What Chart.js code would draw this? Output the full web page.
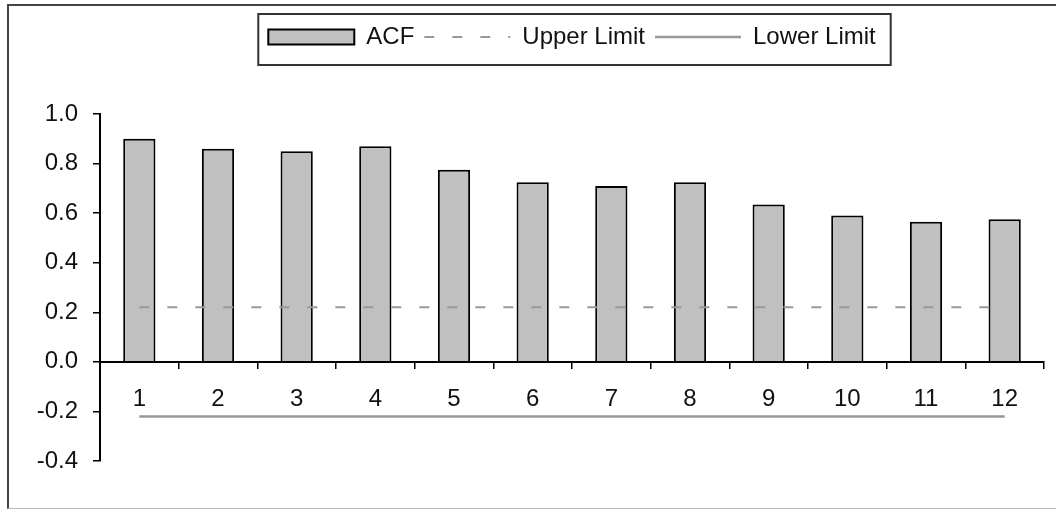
<!DOCTYPE html>
<html>
<head>
<meta charset="utf-8">
<title>ACF</title>
<script src="https://cdn.jsdelivr.net/npm/chart.js@4.4.1/dist/chart.umd.min.js"></script>
<style>
  html, body { margin: 0; padding: 0; background: #fff; overflow: hidden; }
  #frame {
    position: absolute; left: 7px; top: 4px; width: 1100px; height: 502px;
    border-top: 2px solid #444; border-left: 2px solid #444; border-bottom: 1px solid #bbb;
  }
  #acfChart { position: absolute; left: 0; top: 0; }
</style>
</head>
<body>
<div id="frame"></div>
<canvas id="acfChart" width="1056" height="510"></canvas>
<script>
const categories = ['1', '2', '3', '4', '5', '6', '7', '8', '9', '10', '11', '12'];
const acf = [0.90, 0.86, 0.85, 0.87, 0.775, 0.725, 0.71, 0.725, 0.635, 0.59, 0.565, 0.575];
const upperLimit = [0.22, 0.22, 0.22, 0.22, 0.22, 0.22, 0.22, 0.22, 0.22, 0.22, 0.22, 0.22];
const lowerLimit = [-0.22, -0.22, -0.22, -0.22, -0.22, -0.22, -0.22, -0.22, -0.22, -0.22, -0.22, -0.22];
const yTicks = [-0.4, -0.2, 0.0, 0.2, 0.4, 0.6, 0.8, 1.0];

Chart.defaults.font.family = "'Liberation Sans', Arial, sans-serif";
Chart.defaults.color = '#000';

// legend gets a fixed height so the plot starts where the original does
const legendSpace = {
  id: 'legendSpace',
  beforeInit(chart) {
    const fit = chart.legend.fit;
    chart.legend.fit = function () {
      fit.bind(chart.legend)();
      this.height = 99;
    };
  }
};

// Excel style box round the legend
const legendBox = {
  id: 'legendBox',
  afterDraw(chart) {
    const boxes = chart.legend.legendHitBoxes;
    if (!boxes || !boxes.length) return;
    const left = Math.min(...boxes.map(b => b.left));
    const right = Math.max(...boxes.map(b => b.left + b.width));
    const cy = boxes[0].top + boxes[0].height / 2;
    const ctx = chart.ctx;
    ctx.save();
    ctx.strokeStyle = '#333';
    ctx.lineWidth = 2;
    ctx.strokeRect(left - 10, cy - 23, right - left + 25, 51);
    ctx.restore();
  }
};

const ctx = document.getElementById('acfChart').getContext('2d');
new Chart(ctx, {
  type: 'bar',
  data: {
    labels: categories,
    datasets: [
      {
        label: 'ACF',
        data: acf,
        backgroundColor: '#c0c0c0',
        borderColor: '#000',
        borderWidth: 2,
        barPercentage: 0.41,
        categoryPercentage: 1.0,
        pointStyle: 'rect',
        order: 1
      },
      {
        type: 'line',
        label: 'Upper Limit',
        data: upperLimit,
        borderColor: '#999',
        backgroundColor: '#999',
        borderWidth: 2,
        borderDash: [10, 18],
        pointRadius: 0,
        pointStyle: 'line',
        fill: false,
        order: 0
      },
      {
        type: 'line',
        label: 'Lower Limit',
        data: lowerLimit,
        borderColor: '#999',
        backgroundColor: '#999',
        borderWidth: 2.5,
        pointRadius: 0,
        pointStyle: 'line',
        fill: false,
        order: 0
      }
    ]
  },
  options: {
    responsive: false,
    devicePixelRatio: 1,
    animation: false,
    layout: {
      padding: { top: 15, right: 12, bottom: 49, left: 0 }
    },
    scales: {
      x: {
        position: { y: 0 },
        grid: {
          offset: true,
          drawOnChartArea: false,
          drawTicks: true,
          tickLength: 6,
          color: '#000',
          lineWidth: 1.5
        },
        border: { display: true, color: '#000', width: 2 },
        ticks: {
          font: { size: 24 },
          color: '#111',
          padding: 17,
          maxRotation: 0,
          autoSkip: false
        }
      },
      y: {
        min: -0.4,
        max: 1.0,
        afterBuildTicks: scale => {
          scale.ticks = yTicks.map(v => ({ value: v }));
        },
        afterFit: scale => {
          scale.width = 100;
        },
        grid: {
          drawOnChartArea: false,
          drawTicks: true,
          tickLength: 7,
          color: '#000',
          lineWidth: 1.5
        },
        border: { display: true, color: '#000', width: 2 },
        ticks: {
          font: { size: 24 },
          color: '#111',
          padding: 15,
          callback: value => Number(value).toFixed(1)
        }
      }
    },
    plugins: {
      legend: {
        position: 'top',
        fullSize: false,
        align: 'center',
        labels: {
          usePointStyle: true,
          pointStyleWidth: 86,
          boxHeight: 15,
          padding: 10,
          color: '#111',
          font: { size: 24 },
          sort: (a, b) => a.datasetIndex - b.datasetIndex,
          // take dash, width and colour of the lines from the datasets, not from their points
          generateLabels: chart => Chart.defaults.plugins.legend.labels.generateLabels(chart).map(item => {
            const ds = chart.data.datasets[item.datasetIndex];
            item.lineDash = ds.borderDash || [];
            item.lineWidth = ds.borderWidth;
            item.strokeStyle = ds.borderColor;
            return item;
          })
        }
      },
      tooltip: { enabled: false }
    }
  },
  plugins: [legendSpace, legendBox]
});
</script>
</body>
</html>
